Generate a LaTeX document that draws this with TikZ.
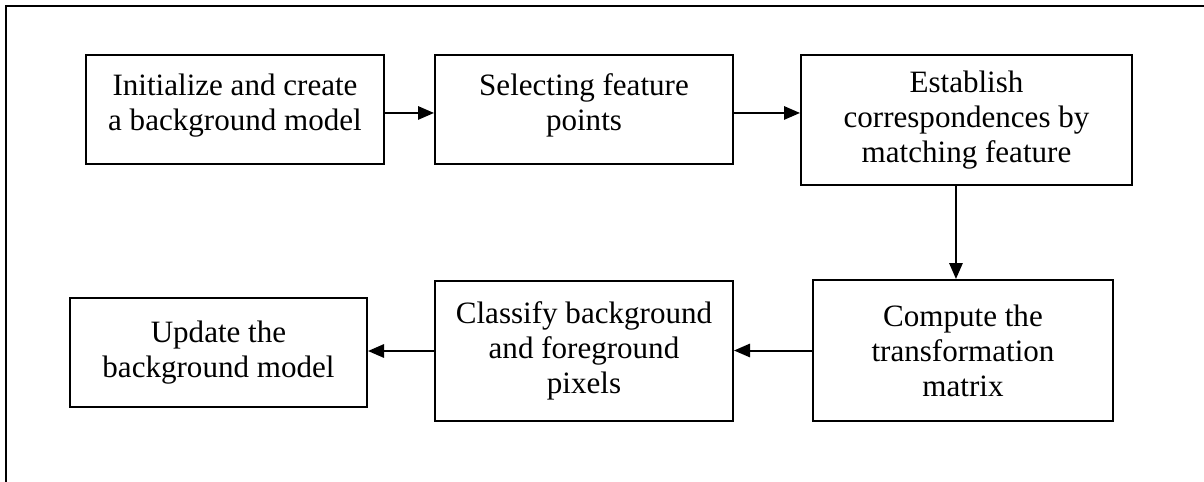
\documentclass[tikz,border=0pt]{standalone}
\usepackage{fontspec}
\setmainfont{Liberation Serif}
\usetikzlibrary{arrows.meta}
\newcommand{\lowpad}{\rule[-11pt]{0pt}{1pt}}
\tikzset{
  px/.style={x=0.75pt,y=-0.75pt},
  stepbox/.style={draw=black,line width=1.5pt,fill=white,inner sep=0pt,align=center,
    font=\fontsize{23.3}{26.3}\selectfont},
  arr/.style={draw=black,line width=1.5pt,-{Triangle[length=12pt,width=10pt]}},
  frameline/.style={draw=black,line width=1.5pt}
}
\begin{document}
\begin{tikzpicture}[px]
\useasboundingbox (0,0) rectangle (1204,482);
\draw[frameline] (6,482) -- (6,6) -- (1204,6);
\node[stepbox,minimum width=223.5pt,minimum height=81.75pt] (b1) at (235,109.5)
  {Initialize and create\\a background model\lowpad};
\node[stepbox,minimum width=223.5pt,minimum height=81.75pt] (b2) at (584,109.5)
  {Selecting feature\\points\lowpad};
\node[stepbox,minimum width=248.25pt,minimum height=97.5pt] (b3) at (966.5,120)
  {Establish\\correspondences by\\matching feature};
\node[stepbox,minimum width=225pt,minimum height=105.75pt] (b4) at (963,350.5)
  {Compute the\\transformation\\matrix};
\node[stepbox,minimum width=223.5pt,minimum height=105pt] (b5) at (584,351)
  {Classify background\\and foreground\\pixels};
\node[stepbox,minimum width=222.75pt,minimum height=81.75pt] (b6) at (218.5,352.5)
  {Update the\\background model};
\draw[arr] ([yshift=-2.6pt]b1.east) -- ([yshift=-2.6pt]b2.west);
\draw[arr] ([yshift=-2.6pt]b2.east) -- ([yshift=-2.6pt]b2.east -| b3.west);
\draw[arr] ([xshift=-7.9pt]b3.south) -- ([xshift=-7.9pt]b3.south |- b4.north);
\draw[arr] (b4.west) -- (b4.west -| b5.east);
\draw[arr] (b5.west) -- (b5.west -| b6.east);
\end{tikzpicture}
\end{document}
